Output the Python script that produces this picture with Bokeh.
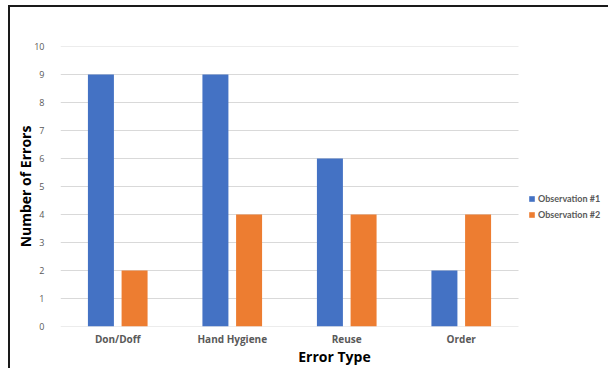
from bokeh.plotting import figure
from bokeh.models import ColumnDataSource, Legend, LegendItem, Range1d, FixedTicker
from bokeh.embed import file_html
from bokeh.resources import INLINE

categories = ["Don/Doff", "Hand Hygiene", "Reuse", "Order"]
obs1 = [9, 9, 6, 2]
obs2 = [2, 4, 4, 4]
series_names = ["Observation #1", "Observation #2"]
y_ticks = list(range(0, 11))

idx = list(range(len(categories)))
offset = 0.147
bar_w = 0.227
src = ColumnDataSource(dict(cat=categories,
                            x1=[i - offset for i in idx], x2=[i + offset for i in idx],
                            obs1=obs1, obs2=obs2))

x_lo = -0.5
x_hi = len(categories) - 0.5
p = figure(x_range=Range1d(x_lo, x_hi + 0.786), y_range=Range1d(0, 10),
           frame_width=548, frame_height=280, output_backend="svg", toolbar_location=None,
           min_border_left=50, min_border_right=0, min_border_top=39, min_border_bottom=0)
p.styles = {"border-top": "2px solid #1a1a1a", "border-left": "2px solid #1a1a1a",
            "margin-left": "8px", "margin-top": "5px"}

# horizontal gridlines limited to the category area
p.segment(x0=[x_lo] * len(y_ticks), x1=[x_hi] * len(y_ticks), y0=y_ticks, y1=y_ticks,
          line_color="#d9d9d9", line_width=1)

r1 = p.vbar(x="x1", top="obs1", width=bar_w, source=src,
            fill_color="#4472C4", line_color=None)
r2 = p.vbar(x="x2", top="obs2", width=bar_w, source=src,
            fill_color="#ED7D31", line_color=None)

p.outline_line_color = None
p.xgrid.grid_line_color = None
p.ygrid.grid_line_color = None
p.yaxis.ticker = FixedTicker(ticks=y_ticks)
p.xaxis.ticker = FixedTicker(ticks=idx)
p.xaxis.major_label_overrides = {i: c for i, c in zip(idx, categories)}

for ax in (p.xaxis[0], p.yaxis[0]):
    ax.axis_line_color = None
    ax.major_tick_line_color = None
    ax.minor_tick_line_color = None
    ax.major_tick_out = 0
    ax.major_tick_in = 0
    ax.minor_tick_out = 0
    ax.minor_tick_in = 0
    ax.major_label_text_font = "Open Sans"
    ax.major_label_text_color = "#595959"
    ax.axis_label_text_font = "Open Sans"
    ax.axis_label_text_font_style = "bold"
    ax.axis_label_text_color = "#000000"
    ax.axis_label_text_font_size = "14px"

p.yaxis.major_label_text_font_size = "9px"
p.yaxis.major_label_standoff = 16
p.yaxis.axis_label = "Number of Errors"
p.yaxis.axis_label_standoff = -4
p.xaxis.major_label_text_font_size = "10px"
p.xaxis.major_label_text_font_style = "bold"
p.xaxis.major_label_standoff = 5
p.xaxis.axis_label = "Error Type"
p.xaxis.axis_label_standoff = -2

legend = Legend(items=[LegendItem(label=series_names[0], renderers=[r1]),
                       LegendItem(label=series_names[1], renderers=[r2])],
                location=(468, 106), border_line_color=None, background_fill_alpha=0,
                label_text_font="Lato", label_text_font_size="9px",
                label_text_font_style="bold", label_text_color="#595959",
                glyph_width=7, glyph_height=7, label_standoff=3, spacing=4,
                label_height=12, padding=2, margin=0)
p.add_layout(legend)

open("out.html", "w").write(file_html(p, INLINE))
